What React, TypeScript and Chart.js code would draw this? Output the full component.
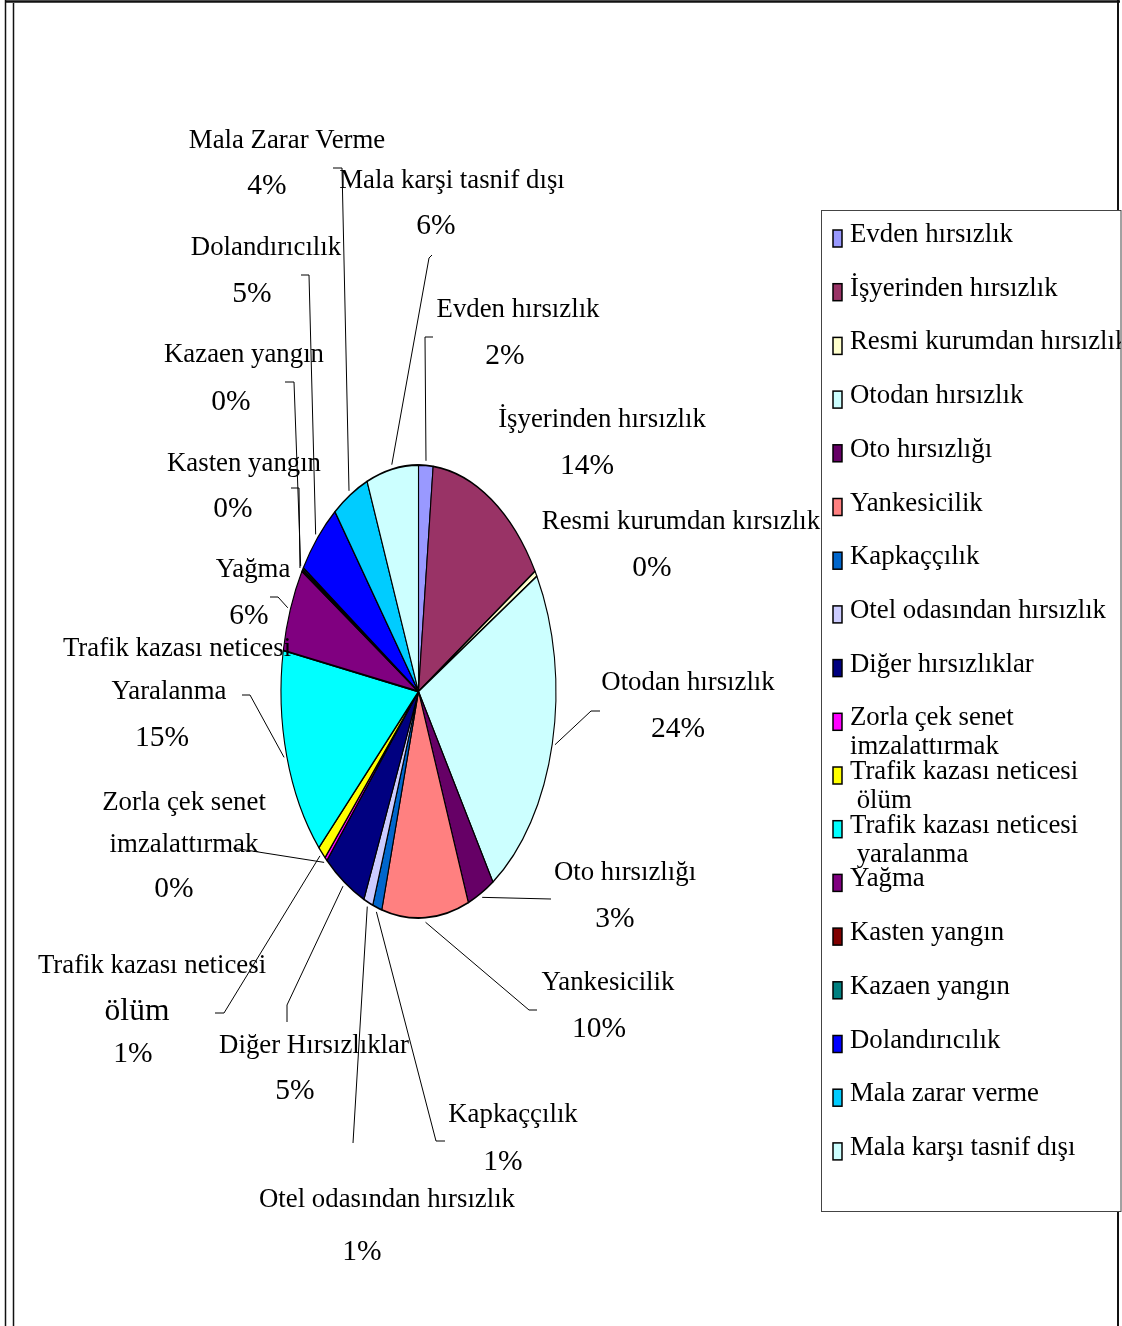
import React, { useEffect, useRef } from "react";
import { Chart, registerables } from "chart.js";

Chart.register(...registerables);

// ---------- data ----------
const categories = [
  "Evden hırsızlık",
  "İşyerinden hırsızlık",
  "Resmi kurumdan hırsızlık",
  "Otodan hırsızlık",
  "Oto hırsızlığı",
  "Yankesicilik",
  "Kapkaççılık",
  "Otel odasından hırsızlık",
  "Diğer hırsızlıklar",
  "Zorla çek senet\nimzalattırmak",
  "Trafik kazası neticesi\n ölüm",
  "Trafik kazası neticesi\n yaralanma",
  "Yağma",
  "Kasten yangın",
  "Kazaen yangın",
  "Dolandırıcılık",
  "Mala zarar verme",
  "Mala karşı tasnif dışı",
];

const sliceLabelNames = [
  ["Evden hırsızlık"],
  ["İşyerinden hırsızlık"],
  ["Resmi kurumdan kırsızlık"],
  ["Otodan hırsızlık"],
  ["Oto hırsızlığı"],
  ["Yankesicilik"],
  ["Kapkaççılık"],
  ["Otel odasından hırsızlık"],
  ["Diğer Hırsızlıklar"],
  ["Zorla çek senet", "imzalattırmak"],
  ["Trafik kazası neticesi", "ölüm"],
  ["Trafik kazası neticesi", "Yaralanma"],
  ["Yağma"],
  ["Kasten yangın"],
  ["Kazaen yangın"],
  ["Dolandırıcılık"],
  ["Mala Zarar Verme"],
  ["Mala karşi tasnif dışı"],
];

const values = [1.7, 14.4, 0.4, 24.4, 3.2, 10.2, 1.1, 1.1, 5.1, 0.3, 1.0, 15.0, 6.0, 0.15, 0.15, 5.4, 4.3, 6.1];

const colors = [
  "#9999FF", "#993366", "#FFFFCC", "#CCFFFF", "#660066", "#FF8080",
  "#0066CC", "#CCCCFF", "#000080", "#FF00FF", "#FFFF00", "#00FFFF",
  "#800080", "#800000", "#008080", "#0000FF", "#00CCFF", "#CCFFFF",
];

// ---------- layout (label text positions & leader elbows) ----------
type Lay = { pos: number[][]; sizes?: number[]; leader: number[][] | null };
const labelLayout: Lay[] = [
  { pos: [[518, 310], [505, 356]], leader: [[433, 337], [425, 337]] },
  { pos: [[602, 420], [587, 466]], leader: null },
  { pos: [[681, 522], [652, 568]], leader: null },
  { pos: [[688, 683], [678, 729]], leader: [[600, 711], [591, 711]] },
  { pos: [[625, 873], [615, 919]], leader: [[551, 899]] },
  { pos: [[608, 983], [599, 1029]], leader: [[537, 1010], [529, 1010]] },
  { pos: [[513, 1115], [503, 1162]], leader: [[445, 1141], [436, 1141]] },
  { pos: [[387, 1200], [362, 1252]], leader: [[353, 1143]] },
  { pos: [[314, 1046], [295, 1091]], leader: [[287, 1022], [287, 1005]] },
  { pos: [[184, 803], [184, 845], [174, 889]], leader: [[233, 848]] },
  { pos: [[152, 966], [137, 1012], [133, 1054]], sizes: [26.8, 31.5, 29.5], leader: [[215, 1013], [224, 1013]] },
  { pos: [[177, 649], [169, 692], [162, 738]], leader: [[242, 695], [250, 695]] },
  { pos: [[253, 570], [249, 616]], leader: [[270, 597], [278, 597]] },
  { pos: [[244, 464], [233, 509]], leader: [[291, 488], [299, 488]] },
  { pos: [[244, 355], [231, 402]], leader: [[285, 382], [294, 382]] },
  { pos: [[266, 248], [252, 294]], leader: [[301, 275], [309, 275]] },
  { pos: [[287, 141], [267, 186]], leader: [[333, 168], [342, 168]] },
  { pos: [[452, 181], [436, 226]], leader: [[432, 255], [429, 258]] },
];

const W = 1122;
const H = 1326;
const SX = 137.5 / 226.5; // ellipse horizontal squeeze
const FONT = '"Liberation Serif", "Times New Roman", serif';
const NAME_SIZE = 26.8;
const PCT_SIZE = 29.5;

const ellipsePlugin = {
  id: "ellipse",
  beforeDatasetsDraw(chart: any) {
    const a = chart.getDatasetMeta(0).data[0];
    const ctx = chart.ctx;
    ctx.save();
    ctx.translate(a.x, a.y);
    ctx.scale(SX, 1);
    ctx.translate(-a.x, -a.y);
  },
  afterDatasetsDraw(chart: any) {
    chart.ctx.restore();
  },
};

const framePlugin = {
  id: "frame",
  beforeDraw(chart: any) {
    const ctx = chart.ctx;
    ctx.save();
    ctx.fillStyle = "#fff";
    ctx.fillRect(0, 0, W, H);
    ctx.strokeStyle = "#111";
    ctx.lineWidth = 1.5;
    ctx.beginPath();
    ctx.moveTo(5.5, 0); ctx.lineTo(5.5, H);
    ctx.moveTo(13.5, 3); ctx.lineTo(13.5, H);
    ctx.stroke();
    ctx.lineWidth = 2.5;
    ctx.beginPath();
    ctx.moveTo(5, 1.5); ctx.lineTo(1120, 1.5);
    ctx.stroke();
    ctx.lineWidth = 2;
    ctx.beginPath();
    ctx.moveTo(1118, 0); ctx.lineTo(1118, H);
    ctx.stroke();
    ctx.restore();
  },
};

const labelPlugin = {
  id: "labels",
  afterDraw(chart: any) {
    const ctx = chart.ctx;
    const meta = chart.getDatasetMeta(0);
    const total = values.reduce((s, v) => s + v, 0);
    ctx.save();
    meta.data.forEach((el: any, i: number) => {
      const lay = labelLayout[i];
      if (lay.leader) {
        const mid = (el.startAngle + el.endAngle) / 2;
        const R = el.outerRadius * 1.02;
        const ex = el.x + SX * R * Math.cos(mid);
        const ey = el.y + R * Math.sin(mid);
        ctx.strokeStyle = "#000";
        ctx.lineWidth = 1;
        ctx.beginPath();
        ctx.moveTo(lay.leader[0][0], lay.leader[0][1]);
        for (let k = 1; k < lay.leader.length; k++) ctx.lineTo(lay.leader[k][0], lay.leader[k][1]);
        ctx.lineTo(ex, ey);
        ctx.stroke();
      }
      const lines = [...sliceLabelNames[i], Math.round((values[i] / total) * 100) + "%"];
      ctx.fillStyle = "#000";
      ctx.textAlign = "center";
      ctx.textBaseline = "middle";
      lines.forEach((t, j) => {
        const p = lay.pos[j];
        const size = lay.sizes ? lay.sizes[j] : j === lines.length - 1 ? PCT_SIZE : NAME_SIZE;
        ctx.font = `${size}px ${FONT}`;
        ctx.fillText(t, p[0], p[1]);
      });
    });

    // legend
    const lx = 821.5, ly = 210.5, lw = 299.5, lh = 1001;
    ctx.fillStyle = "#fff";
    ctx.fillRect(lx, ly, lw, lh);
    ctx.strokeStyle = "#444";
    ctx.lineWidth = 1;
    ctx.strokeRect(lx, ly, lw, lh);
    ctx.save();
    ctx.beginPath();
    ctx.rect(lx, ly, lw, lh);
    ctx.clip();
    ctx.textAlign = "left";
    ctx.textBaseline = "middle";
    ctx.font = `${NAME_SIZE}px ${FONT}`;
    categories.forEach((c, i) => {
      const cy = 235 + i * 53.7;
      ctx.fillStyle = colors[i];
      ctx.fillRect(833, cy - 5, 9, 17);
      ctx.strokeStyle = "#000";
      ctx.lineWidth = 1.5;
      ctx.strokeRect(833, cy - 5, 9, 17);
      ctx.fillStyle = "#000";
      c.split("\n").forEach((t, j) => {
        ctx.fillText(t, 850, cy + j * 29);
      });
    });
    ctx.restore();
    ctx.restore();
  },
};

export default function App() {
  const ref = useRef<HTMLCanvasElement | null>(null);
  useEffect(() => {
    document.body.style.margin = "0";
    if (!ref.current) return;
    const chart = new Chart(ref.current, {
      type: "pie",
      data: {
        labels: categories,
        datasets: [
          {
            data: values,
            backgroundColor: colors,
            borderColor: "#000",
            borderWidth: 1.8,
            radius: 226.5,
          } as any,
        ],
      },
      options: {
        responsive: false,
        animation: false,
        events: [],
        layout: { padding: { left: 0, right: 285, top: 57, bottom: 0 } },
        plugins: { legend: { display: false }, tooltip: { enabled: false } },
      },
      plugins: [framePlugin, ellipsePlugin, labelPlugin],
    });
    return () => chart.destroy();
  }, []);
  return (
    <canvas ref={ref} width={W} height={H} style={{ display: "block", width: W, height: H }} />
  );
}
